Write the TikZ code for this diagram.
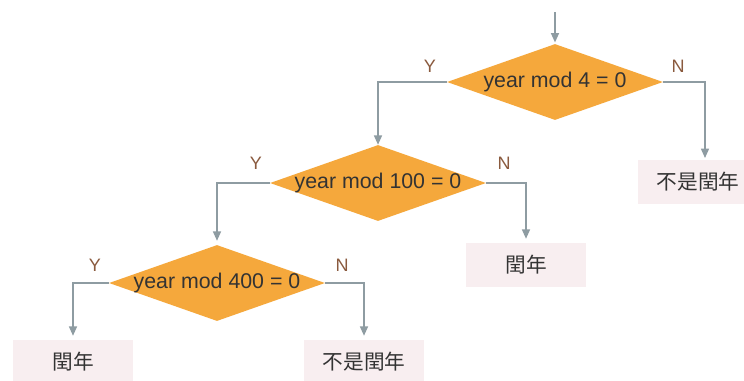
\documentclass[tikz,border=0pt]{standalone}
\usepackage{fontspec}
\setmainfont{Liberation Sans}
\newfontfamily\cjk{Noto Sans CJK TC}
\usetikzlibrary{shapes.geometric,arrows.meta,calc}
\definecolor{dfill}{HTML}{F5A83C}
\definecolor{lcol}{HTML}{8E9CA2}
\definecolor{ycol}{HTML}{8A5A3E}
\definecolor{bfill}{HTML}{F8EEF0}
\definecolor{tcol}{HTML}{333333}
\tikzset{
  decision/.style={diamond, fill=dfill, draw=none, inner sep=0pt, aspect=2.84,
    minimum width=162pt, minimum height=57pt, font=\fontsize{16}{18}\selectfont, text=tcol},
  result/.style={rectangle, fill=bfill, draw=none, minimum width=90pt, minimum height=33pt,
    font=\cjk\fontsize{15.5}{18}\selectfont, text=tcol},
  yn/.style={font=\fontsize{13.5}{16}\selectfont, text=ycol},
  arr/.style={draw=lcol, line width=1.1pt, -{Triangle[length=7pt,width=6pt]}},
  ln/.style={draw=lcol, line width=1.1pt}
}
\begin{document}
\begin{tikzpicture}[x=0.75pt,y=-0.75pt]
\useasboundingbox[fill=white] (0,0) rectangle (744,380);
% decisions
\node[decision] (d1) at (555,82) {\makebox[0pt]{year mod 4 = 0}};
\node[decision] (d2) at (378,183) {\makebox[0pt]{year mod 100 = 0}};
\node[decision] (d3) at (217,283) {\makebox[0pt]{year mod 400 = 0}};
% results
\node[result] (r1) at (698,182) {不是閏年};
\node[result] (r2) at (526,265) {閏年};
\node[result] (r3) at (73,362) {閏年};
\node[result] (r4) at (364,362) {不是閏年};
% coordinates
\coordinate (start) at (555,12);
\coordinate (n1) at (705,158);
% connectors
\draw[arr, shorten >=1pt] (start) -- (d1.north);
\draw[arr] (d1.west) -| (d2.north);
\draw[arr] (d1.east) -| (n1);
\draw[arr, shorten >=3pt] (d2.west) -| (d3.north);
\draw[arr, shorten >=3pt] (d2.east) -| (r2.north);
\draw[arr, shorten >=3pt] (d3.west) -| (r3.north);
\draw[arr, shorten >=3pt] (d3.east) -| (r4.north);
% labels
\node[yn] (y1) at (430,66) {Y};
\node[yn] (nn1) at (678,66) {N};
\node[yn] (y2) at (256,163) {Y};
\node[yn] (nn2) at (504,163) {N};
\node[yn] (y3) at (95,265) {Y};
\node[yn] (nn3) at (342,265) {N};
\end{tikzpicture}
\end{document}
